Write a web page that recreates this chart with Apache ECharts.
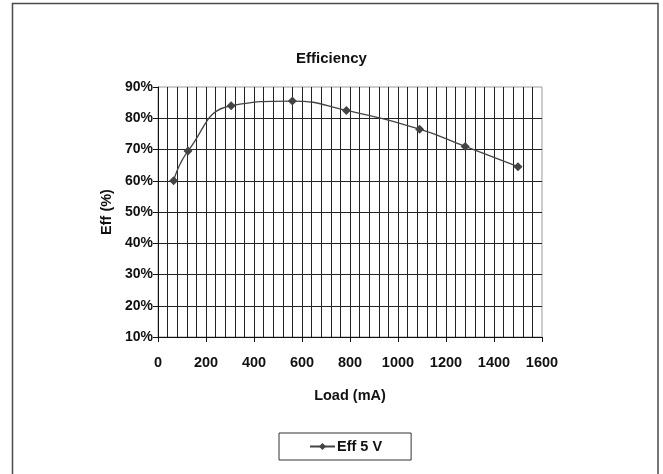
<!DOCTYPE html>
<html>
<head>
<meta charset="utf-8">
<script src="https://cdn.jsdelivr.net/npm/echarts@6/dist/echarts.min.js"></script>
<style>
  html, body { margin: 0; padding: 0; background: #fff; }
  #chart { width: 663px; height: 474px; }
</style>
</head>
<body>
<div id="chart"></div>
<script>
// Measured efficiency of the 5 V rail versus load current
const loadMA = [65, 125, 305, 560, 785, 1090, 1280, 1500];
const eff5V = [60, 69.5, 84, 85.5, 82.5, 76.5, 71, 64.5];
const seriesName = 'Eff 5 V';

const FONT = "'Liberation Sans', Arial, sans-serif";
const INK = '#111';

const chart = echarts.init(document.getElementById('chart'), null, { renderer: 'canvas' });

chart.setOption({
  backgroundColor: '#fff',
  animation: false,
  textStyle: { fontFamily: FONT, fontWeight: 'bold', color: INK },
  graphic: [{
    type: 'rect',
    shape: { x: 12.5, y: 3.5, width: 645.5, height: 490 },
    style: { fill: 'none', stroke: '#4a4a4a', lineWidth: 1.5 },
    silent: true,
    z: -1
  }],
  title: {
    text: 'Efficiency',
    left: 'center',
    top: 51,
    padding: 0,
    textStyle: { fontFamily: FONT, fontWeight: 'bold', fontSize: 15, color: INK }
  },
  grid: {
    left: 158, right: 121, top: 87, bottom: 137,
    show: true, borderColor: '#9a9a9a', borderWidth: 1,
    backgroundColor: 'transparent'
  },
  legend: {
    left: 279, top: 433,
    padding: [6, 29, 6, 30],
    borderColor: '#333', borderWidth: 1,
    itemWidth: 25, itemHeight: 9, itemGap: 0,
    textStyle: { fontFamily: FONT, fontWeight: 'bold', fontSize: 14.5, color: INK, padding: [0, 0, 0, -3] },
    data: [seriesName]
  },
  xAxis: {
    type: 'value',
    min: 0, max: 1600, interval: 200,
    name: 'Load (mA)',
    nameLocation: 'middle',
    nameGap: 51,
    nameTextStyle: { fontFamily: FONT, fontWeight: 'bold', fontSize: 14.5, color: INK },
    axisLine: { show: true, onZero: false, lineStyle: { color: '#111', width: 1 } },
    axisTick: { show: true, length: 5, lineStyle: { color: '#111' } },
    minorTick: { show: true, splitNumber: 5, length: 0 },
    minorSplitLine: { show: true, lineStyle: { color: '#222', width: 1 } },
    splitLine: { show: true, showMinLine: false, showMaxLine: false, lineStyle: { color: '#222', width: 1 } },
    axisLabel: {
      margin: 18,
      formatter: (v) => String(v),
      fontFamily: FONT, fontWeight: 'bold', fontSize: 14.5, color: INK
    }
  },
  yAxis: {
    type: 'value',
    min: 10, max: 90, interval: 10,
    name: 'Eff (%)',
    nameLocation: 'middle',
    nameGap: 30,
    nameRotate: 90,
    nameTextStyle: { fontFamily: FONT, fontWeight: 'bold', fontSize: 14.5, color: INK },
    axisLine: { show: true, lineStyle: { color: '#111', width: 1 } },
    axisTick: { show: true, length: 5, lineStyle: { color: '#111' } },
    splitLine: { show: true, showMinLine: false, showMaxLine: false, lineStyle: { color: '#222', width: 1 } },
    axisLabel: { margin: 5, formatter: '{value}%', fontFamily: FONT, fontWeight: 'bold', fontSize: 14, color: INK }
  },
  series: [{
    name: seriesName,
    type: 'line',
    data: loadMA.map((x, i) => [x, eff5V[i]]),
    smooth: 0.5,
    symbol: 'diamond',
    symbolSize: 9,
    lineStyle: { color: '#444', width: 1.3 },
    itemStyle: { color: '#444' },
    z: 5
  }]
});
</script>
</body>
</html>
